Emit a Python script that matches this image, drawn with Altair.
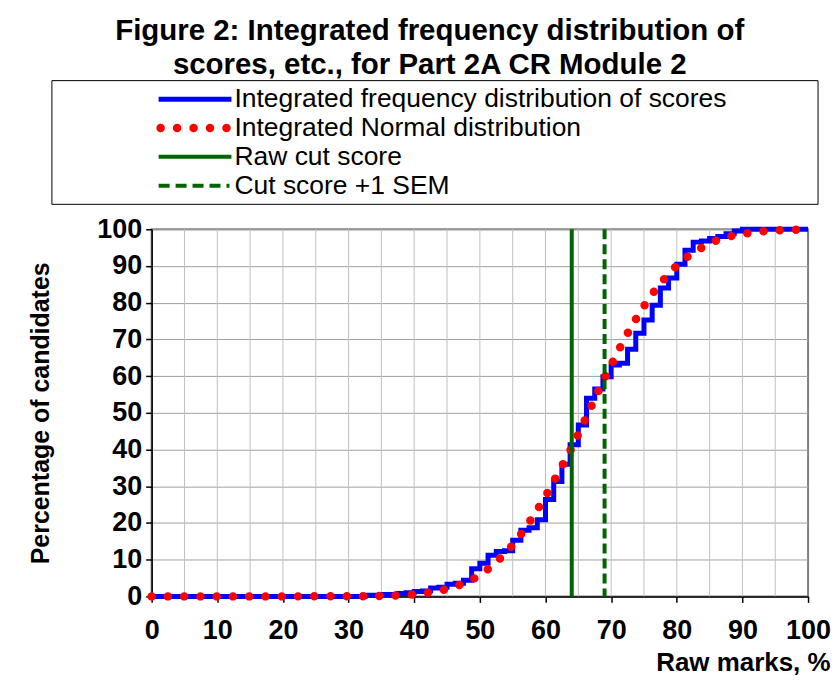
import altair as alt
import pandas as pd

# ---------------- data ----------------
# Integrated frequency distribution of scores (cumulative %, step curve)
score_x = [0, 32.5, 35, 37.5, 38.75, 40, 41.25, 42.5, 43.75, 45, 46.25, 47.5,
           48.75, 50, 51.25, 52.5, 53.75, 55, 56.25, 57.5, 58.75, 60, 61.25,
           62.5, 63.75, 65, 66.25, 67.5, 68.75, 70, 71.25, 72.5, 73.75, 75,
           76.25, 77.5, 78.75, 80, 81.25, 82.5, 83.75, 85, 86.25, 87.5, 88.75,
           90, 100]
score_cum = [0, 0.3, 0.5, 0.8, 1.0, 1.3, 1.5, 2.3, 2.5, 3.3, 3.6, 4.4,
             7.5, 9.0, 11.2, 12.2, 12.4, 15.3, 18.0, 18.7, 20.9, 26.4, 31.3,
             36.0, 41.3, 46.7, 54.0, 56.5, 59.8, 63.0, 63.5, 67.3, 71.7, 75.3,
             79.3, 84.0, 86.7, 90.5, 94.3, 96.5, 96.8, 97.5, 98.0, 98.8, 99.5,
             100, 100]

# Integrated Normal distribution (cumulative %)
normal_x = [0, 10, 20, 25, 30, 35, 38, 40, 42, 44, 46, 48, 50, 52, 54, 56, 58,
            60, 62, 64, 66, 68, 70, 72, 74, 76, 78, 80, 82, 84, 86, 88, 90, 92,
            95, 100]
normal_cum = [0, 0, 0, 0.01, 0.03, 0.13, 0.35, 0.6, 1.0, 1.6, 2.6, 3.9, 5.8,
              8.6, 12.0, 16.3, 21.5, 27.3, 33.8, 40.5, 48.0, 55.7, 63.0, 70.0,
              76.2, 81.7, 86.3, 90.1, 93.0, 95.2, 96.9, 98.0, 98.7, 99.2, 99.7,
              99.9]

cut_score = [64]
cut_plus_sem = [69]

series_names = ["Integrated frequency distribution of scores",
                "Integrated Normal distribution",
                "Raw cut score",
                "Cut score +1 SEM"]

x_ticks = list(range(0, 101, 10))
x_minor_grid = list(range(5, 100, 5))
y_ticks = list(range(0, 101, 10))

title_lines = ["Figure 2: Integrated frequency distribution of",
               "scores, etc., for Part 2A CR Module 2"]

# ---------------- styles ----------------
FONT = "Liberation Sans"
BLUE = "#0000FF"
RED = "#FF0000"
GREEN = "#006400"
DOTS = [0, 16.3]
DASHES = [10, 5]

steps = pd.DataFrame({"x": score_x, "y": score_cum})
normal = pd.DataFrame({"x": normal_x, "y": normal_cum})
cut_df = pd.DataFrame({"x": cut_score})
sem_df = pd.DataFrame({"x": cut_plus_sem})
grid_df = pd.DataFrame({"x": x_minor_grid})

xscale = alt.Scale(domain=[0, 100], nice=False, zero=False)
yscale = alt.Scale(domain=[0, 100], nice=False, zero=False)

x_axis = alt.Axis(values=x_ticks, grid=False, tickSize=6, tickWidth=1.5,
                  tickColor="black", domainColor="black", domainWidth=1.5,
                  labelPadding=15, labelFontSize=27, labelFontWeight="bold",
                  labelFont=FONT, labelColor="black", labelFlush=False,
                  labelOverlap=False,
                  title="Raw marks, %", titleFontSize=26, titleFontWeight="bold",
                  titleFont=FONT, titleColor="black", titleAlign="right",
                  titleAnchor="end", titleX=680, titlePadding=6)
y_axis = alt.Axis(values=y_ticks, grid=True, gridColor="#a0a0a0", gridWidth=1,
                  tickSize=6, tickWidth=1.5, tickColor="black",
                  domainColor="black", domainWidth=1.5,
                  labelPadding=4, labelFontSize=27, labelFontWeight="bold",
                  labelFont=FONT, labelColor="black", labelFlush=False,
                  labelOverlap=False,
                  title="Percentage of candidates", titleFontSize=25,
                  titleFontWeight="bold", titleFont=FONT, titleColor="black",
                  titlePadding=43)

X = alt.X("x:Q", scale=xscale, axis=x_axis)
Y = alt.Y("y:Q", scale=yscale, axis=y_axis)

grid_layer = alt.Chart(grid_df).mark_rule(color="#c0c0c0", strokeWidth=1).encode(x=X)

step_layer = alt.Chart(steps).mark_line(
    color=BLUE, strokeWidth=5, interpolate="step-after"
).encode(x=X, y=Y)

normal_layer = alt.Chart(normal).mark_line(
    color=RED, strokeWidth=8.5, strokeDash=DOTS, strokeCap="round",
    interpolate="monotone"
).encode(x=X, y=Y)

cut_layer = alt.Chart(cut_df).mark_rule(color=GREEN, strokeWidth=4).encode(x=X)
sem_layer = alt.Chart(sem_df).mark_rule(
    color=GREEN, strokeWidth=4, strokeDash=DASHES
).encode(x=X)

main = alt.layer(
    grid_layer, step_layer, normal_layer, cut_layer, sem_layer
).properties(
    width=658, height=368,
    view=alt.ViewBackground(stroke="#808080", strokeWidth=2),
)

# ---------------- legend panel (its origin lines up with the plot's left edge) ----------------
leg_df = pd.DataFrame({"name": series_names})
ly = alt.Y("name:N", scale=alt.Scale(domain=series_names, type="point", padding=0.65),
           axis=None)
lbase = alt.Chart(leg_df).encode(y=ly)

leg_box = alt.Chart(leg_df).transform_filter(
    alt.datum.name == series_names[0]
).mark_rect(fillOpacity=0, stroke="black", strokeWidth=1).encode(
    x=alt.value(-100), x2=alt.value(668), y=alt.value(0), y2=alt.value(124))
leg_blue = lbase.transform_filter(alt.datum.name == series_names[0]).mark_rule(
    color=BLUE, strokeWidth=5).encode(x=alt.value(7), x2=alt.value(80))
leg_red = lbase.transform_filter(alt.datum.name == series_names[1]).mark_rule(
    color=RED, strokeWidth=8.5, strokeDash=[0, 16.5], strokeCap="round"
).encode(x=alt.value(9), x2=alt.value(76))
leg_cut = lbase.transform_filter(alt.datum.name == series_names[2]).mark_rule(
    color=GREEN, strokeWidth=4).encode(x=alt.value(7), x2=alt.value(80))
leg_sem = lbase.transform_filter(alt.datum.name == series_names[3]).mark_rule(
    color=GREEN, strokeWidth=4, strokeDash=[11, 6]).encode(
    x=alt.value(7), x2=alt.value(78))
leg_text = lbase.mark_text(
    align="left", baseline="middle", fontSize=26.5, font=FONT, color="black"
).encode(text="name:N", x=alt.value(83))

legend_panel = alt.layer(
    leg_box, leg_blue, leg_red, leg_cut, leg_sem, leg_text
).properties(
    width=668, height=124,
    view=alt.ViewBackground(stroke="transparent", strokeWidth=0),
)

chart = alt.vconcat(legend_panel, main, spacing=6).properties(
    title=alt.TitleParams(text=title_lines, fontSize=29.5, font=FONT,
                          fontWeight="bold", anchor="middle", lineHeight=34,
                          offset=0, color="black"),
    padding={"left": 19, "top": 7, "right": 0, "bottom": 0},
    background="white",
)

chart.save("out.html", embed_options={"renderer": "svg", "actions": False})
